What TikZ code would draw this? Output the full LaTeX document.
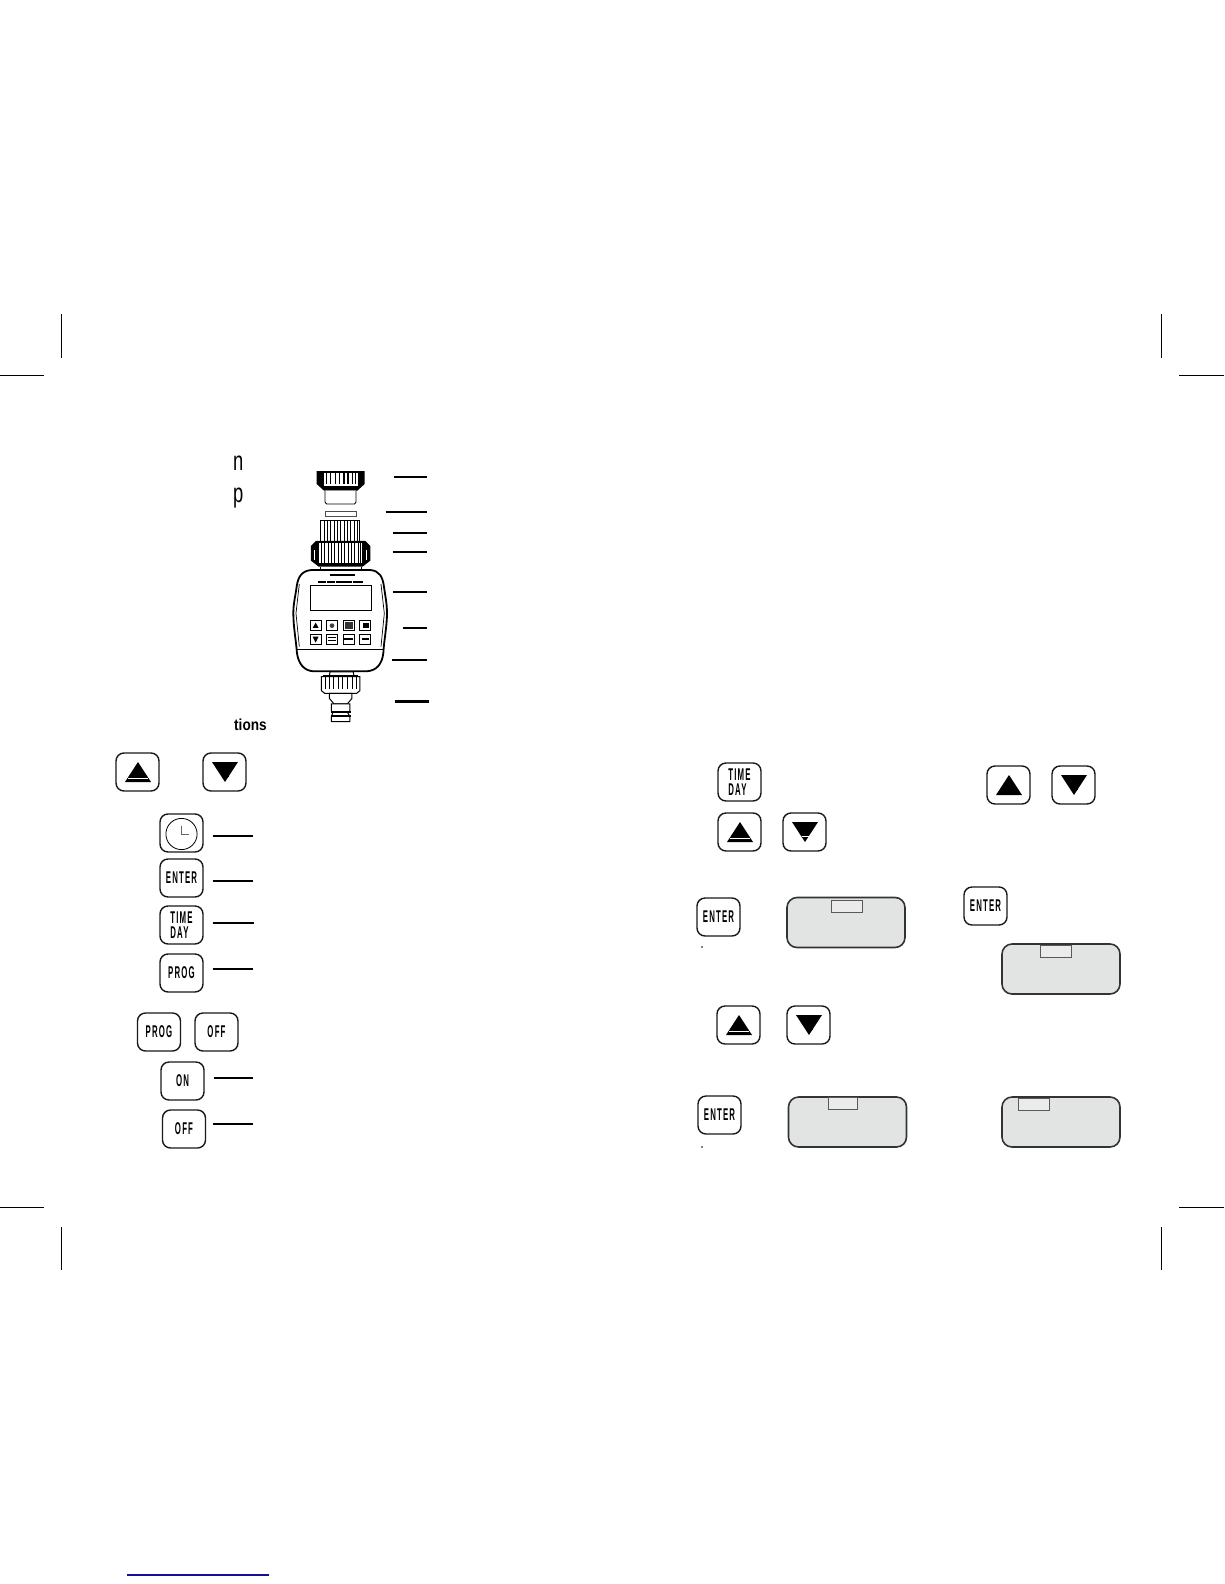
\documentclass[tikz,border=0pt]{standalone}
\usepackage{fontspec}
\setmainfont{Liberation Sans}
\newfontfamily\keyfont[FakeStretch=0.46,LetterSpace=7]{Liberation Sans}
\newfontfamily\headfont[FakeStretch=0.68]{Liberation Sans}
\newfontfamily\subfont[FakeStretch=0.85]{Liberation Sans}
\usepackage{tikz}
\usetikzlibrary{positioning, calc}

\definecolor{lcdgray}{HTML}{E2E3E3}
\definecolor{linkblue}{HTML}{10109A}

\begin{document}
\begin{tikzpicture}[
  x=1pt, y=-1pt,
  keybtn/.style={draw=black!90, line width=1.4pt, rounded corners=8pt, minimum width=43pt,
    minimum height=38pt, inner sep=0pt, align=left, font=\keyfont\bfseries\fontsize{17}{14.3}\selectfont},
  upkey/.style={keybtn, path picture={
    \fill[sharp corners] (path picture bounding box.center) ++(0.5,-10) -- ++(13,20) -- ++(-26,0) -- cycle;
    \draw[#1, sharp corners, line width=0.5pt] (path picture bounding box.center) ++(-9.5,6) -- ++(20,0);}},
  upkey/.default=black,
  downkey/.style={keybtn, path picture={
    \fill[sharp corners] (path picture bounding box.center) ++(0.5,10) -- ++(13,-20) -- ++(-26,0) -- cycle;
    \draw[#1, sharp corners, line width=0.5pt] (path picture bounding box.center) ++(-3,4) -- ++(7,0);}},
  downkey/.default=black,
  leader/.style={line width=1.4pt, shorten <=9pt},
  partline/.style={line width=2.3pt},
  crop/.style={line width=1pt},
  lcd/.style={draw=black!80, line width=1.6pt, fill=lcdgray, rounded corners=10pt, inner sep=0pt,
    minimum width=118pt, minimum height=50pt},
  tabbox/.style={draw=black!65, line width=0.7pt, fill=lcdgray!70, inner sep=0pt,
    minimum width=31pt, minimum height=12pt},
  dev/.style={line width=0.55pt},
  devkey/.style={draw, line width=0.8pt, minimum width=11pt, minimum height=10pt, inner sep=0pt},
]
  \useasboundingbox (0,0) rectangle (1224,1584);

  % Crop marks
  \foreach \cx in {61.5,1161} {
    \draw[crop] (\cx,314) -- (\cx,358);
    \draw[crop] (\cx,1227) -- (\cx,1270);
  }
  \foreach \cy in {375,1207} {
    \draw[crop] (0,\cy) -- (44,\cy);
    \draw[crop] (1179,\cy) -- (1224,\cy);
  }
  \draw[line width=1.1pt, linkblue] (127,1575) -- (269,1575);

  % Heading remains
  \node[anchor=base west, inner sep=0pt, font=\headfont\fontsize{27}{27}\selectfont] (headn) at (233,470) {n};
  \node[anchor=base west, inner sep=0pt, font=\headfont\fontsize{27}{27}\selectfont] (headp) at (233,502) {p};
  \node[anchor=base west, inner sep=0pt, font=\subfont\bfseries\fontsize{16}{16}\selectfont] (headt) at (234,730) {tions};

  % Timer drawing
  \begin{scope}[shift={(210,440)}, x=0.3333pt, y=-0.3333pt]
    % top nut
    \fill (320,93) -- (464,93) -- (464,132) -- (442,152) -- (342,152) -- (320,132) -- cycle;
    \fill[white] (342,100) rectangle (444,138);
    \foreach \x in {350,362,376,388,402,414,428,436}
      \draw[line width=1.4pt] (\x,98) -- (\x,132);
    \draw[dev, line width=0.9pt, fill=white] (345,152) -- (345,186) -- (350,192) -- (434,192) -- (438,186) -- (438,152);
    \draw[dev, draw=black!70] (346,213) rectangle (440,230);
    % ribbed fitting
    \draw[line width=1pt] (333,243) -- (450,243) -- (450,305) -- (333,305) -- cycle;
    \foreach \x in {342,352,362,372,382,392,402,412,422,432,442}
      \draw[dev] (\x,243) -- (\x,305);
    % big nut
    \fill (318,303) -- (466,303) -- (481,318) -- (481,362) -- (458,380) -- (326,380) -- (303,362) -- (303,318) -- cycle;
    \fill[white] (326,310) rectangle (456,368);
    \foreach \x in {334,344,354,364,374,384,394,404,414,424,434,444,452}
      \draw[line width=0.9pt] (\x,308) -- (\x,368);
    \draw[white, line width=0.6pt] (314,330) -- (314,360);
    \draw[white, line width=0.6pt] (470,330) -- (470,360);
    \draw[line width=0.8pt] (330,380) -- (330,390);
    \draw[line width=0.8pt] (455,380) -- (455,390);
    % body
    \draw[line width=1.8pt, fill=white] (305,390) -- (480,390)
      .. controls (508,392) and (518,410) .. (522,440)
      .. controls (526,470) and (531,490) .. (531,520)
      .. controls (531,560) and (522,600) .. (520,640)
      .. controls (516,672) and (500,692) .. (470,694) -- (310,694)
      .. controls (282,692) and (266,672) .. (261,640)
      .. controls (258,600) and (250,560) .. (250,520)
      .. controls (250,490) and (256,470) .. (260,440)
      .. controls (264,410) and (276,392) .. (305,390) -- cycle;
    \draw[line width=0.9pt] (258,628) -- (522,628);
    \draw[line width=0.7pt] (268,432) -- (258,520) -- (268,620);
    \draw[line width=0.7pt] (513,432) -- (523,520) -- (513,620);
    \draw[line width=1.5pt] (360,405) -- (435,405);
    \draw[line width=1.9pt, dash pattern=on 8pt off 0.6pt] (325,425) -- (460,425);
    \draw[line width=0.7pt] (300,435) rectangle (483,512);
    % small keys of the timer
    \foreach \kx in {317,366,416,466}
      \foreach \ky in {557,598}
        \node[devkey] (k\kx\ky) at (\kx,\ky) {};
    \fill (317,548) -- (326,564) -- (308,564) -- cycle;
    \fill (317,608) -- (326,590) -- (308,590) -- cycle;
    \fill[black!75] (366,557) circle (7);
    \fill[black!80] (406,546) rectangle (428,568);
    \fill (458,550) rectangle (476,564);
    \foreach \ly in {593,602} \draw[line width=0.8pt] (354,\ly) -- (378,\ly);
    \fill (403,594) rectangle (429,600);
    \fill (455,595) rectangle (478,601);
    % lower union
    \draw[line width=1pt, fill=white] (360,696) -- (430,696) -- (432,708) -- (358,708) -- cycle;
    \fill (340,704) rectangle (445,712);
    \draw[line width=1pt, fill=white] (334,710) -- (450,710) -- (450,752) -- (440,760) -- (344,760) -- (334,752) -- cycle;
    \foreach \x in {346,358,370,384,398,412,426,438}
      \draw[line width=0.9pt] (\x,712) -- (\x,748);
    \draw[line width=1pt, fill=white] (358,760) -- (426,760) -- (426,775) -- (412,792) -- (372,792) -- (358,775) -- cycle;
    \draw[line width=1pt, fill=white] (364,792) -- (420,792) -- (420,812) -- (414,820) -- (420,830) -- (420,845) -- (364,845) -- (364,830) -- (368,820) -- (364,812) -- cycle;
    \fill (362,812) rectangle (422,818);
    \fill (362,826) rectangle (422,832);
    % part leaders
    \foreach \lname/\lx/\rx/\ly in {parta/551/652/110, partb/527/652/217, partc/549/652/280,
        partd/549/652/336, parte/550/652/455, partf/580/652/565, partg/545/652/660, parth/556/656/785} {
      \coordinate (\lname L) at (\lx,\ly);
      \coordinate (\lname R) at (\rx,\ly);
      \draw[partline] (\lname L) -- (\lname R);
    }
  \end{scope}

  % Keys on the left page
  \node[upkey=white] (leftup) at (137.5,772) {};
  \node[downkey] (leftdown) at (224.5,772) {};
  \node[keybtn] (clock) at (181.5,833) {};
  \draw[line width=0.8pt] ([yshift=-1pt]clock.center) circle (15.6);
  \coordinate (clockhand) at ([yshift=-1.5pt]clock.center);
  \draw[line width=0.5pt, black!60] ($(clockhand)+(0,-9)$) -- (clockhand) -- ++(7,0);
  \node[keybtn] (enterkey) at (181.5,878) {ENTER};
  \node[keybtn] (timekey) at (181.5,925) {TIME\\DAY};
  \node[keybtn] (progkey) at (181.5,973) {PROG};
  \node[keybtn] (progpair) at (159,1032) {PROG};
  \node[keybtn] (offpair) at (216.5,1032) {OFF};
  \node[keybtn] (onkey) at (182.5,1081) {ON};
  \node[keybtn] (offkey) at (184,1129) {OFF};

  % Leaders beside the keys
  \coordinate (clocktip) at (253,836);
  \coordinate (entertip) at (253,881);
  \coordinate (timetip) at (254,923);
  \coordinate (progtip) at (253,969);
  \coordinate (ontip) at (253,1078);
  \coordinate (offtip) at (253,1124);
  \draw[leader, line width=2pt] (clock.east |- clocktip) -- (clocktip);
  \draw[leader] (enterkey.east |- entertip) -- (entertip);
  \draw[leader] (timekey.east |- timetip) -- (timetip);
  \draw[leader] (progkey.east |- progtip) -- (progtip);
  \draw[leader] (onkey.east |- ontip) -- (ontip);
  \draw[leader, shorten <=7pt] (offkey.east |- offtip) -- (offtip);

  % Keys on the right page
  \node[keybtn] (timeright) at (739.5,782) {TIME\\DAY};
  \node[upkey=white] (setup) at (739.5,832) {};
  \node[downkey=white] (setdown) at (804.5,832) {};
  \node[upkey] (farup) at (1008.5,785) {};
  \node[downkey] (fardown) at (1073.5,785) {};
  \node[keybtn] (enterone) at (718.5,917) {ENTER};
  \node[keybtn] (entertwo) at (985.5,906) {ENTER};
  \node[upkey=white] (lowup) at (738.5,1025) {};
  \node[downkey] (lowdown) at (808.5,1025) {};
  \node[keybtn] (enterthree) at (719.5,1115) {ENTER};

  % Displays
  \node[lcd] (lcdone) at (846,922.5) {};
  \node[tabbox] at (847,906.5) (tabone) {};
  \node[lcd] (lcdtwo) at (1061,969) {};
  \node[tabbox] at (1056,951.5) (tabtwo) {};
  \node[lcd] (lcdthree) at (847.5,1122) {};
  \node[tabbox, minimum width=29pt] at (842.5,1103) (tabthree) {};
  \node[lcd] (lcdfour) at (1061,1122) {};
  \node[tabbox] at (1034,1104.5) (tabfour) {};

  % Specks under the keys
  \fill (702,947) circle (0.9);
  \fill (702,1147) circle (0.9);
\end{tikzpicture}
\end{document}
